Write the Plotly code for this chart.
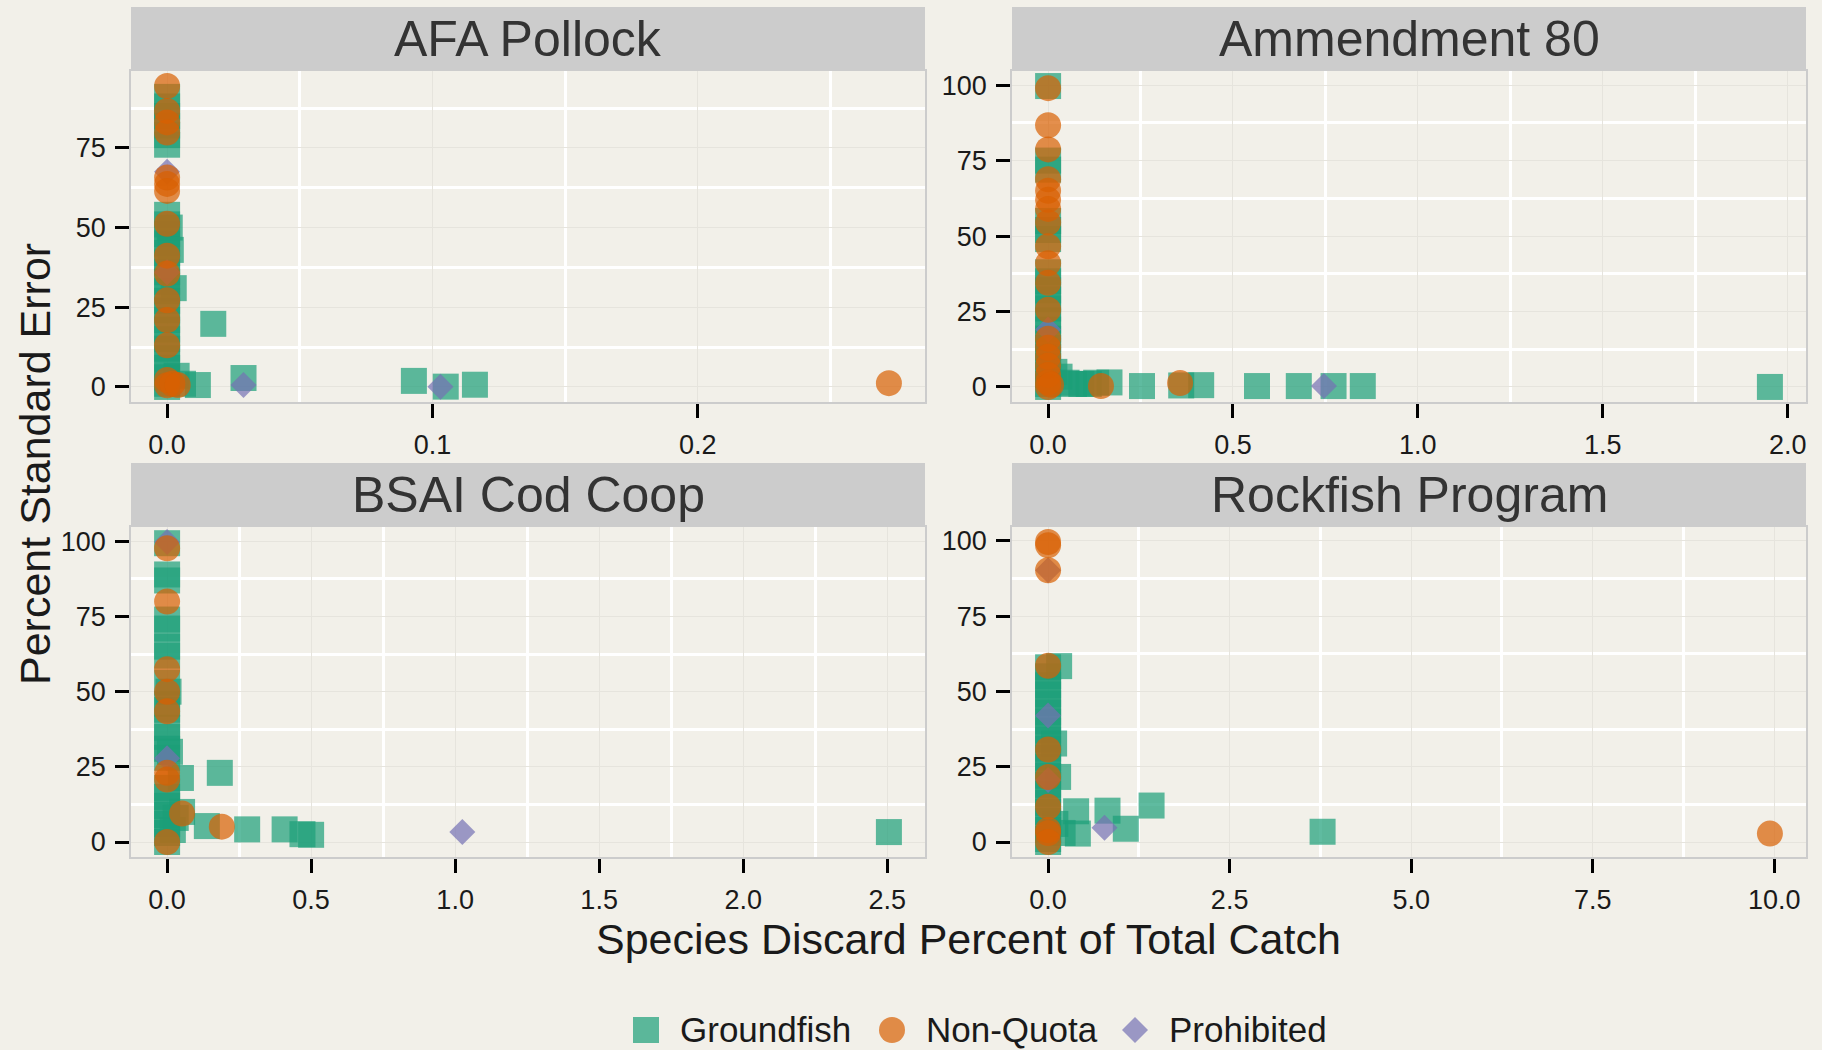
import plotly.graph_objects as go

# ---------------- data ----------------
panels = ["AFA Pollock", "Ammendment 80", "BSAI Cod Coop", "Rockfish Program"]
groups = ["Groundfish", "Non-Quota", "Prohibited"]

# AFA Pollock
afa_ground_x = [0] * 26 + [0.001, 0.0014, 0.0025, 0.0036, 0.006, 0.0116, 0.0174, 0.0288, 0.093, 0.105, 0.116]
afa_ground_y = [91, 88, 85, 82, 79, 76, 54, 51, 48, 45, 42, 39, 36, 33, 30, 27, 24, 21, 18, 15, 12, 9, 6, 3, 1, 0,
                50, 43, 31, 3.5, 1, 0.6, 19.8, 2.8, 1.9, 0.1, 0.7]
afa_nonq_x = [0] * 15 + [0.002, 0.004, 0.272]
afa_nonq_y = [94.4, 86.6, 83, 79.8, 65.7, 63.7, 61.5, 51.2, 41.2, 35.6, 27.2, 21, 13.1, 2.2, 0.5, 1, 0.6, 1.2]
afa_prohib_x = [0, 0, 0.0288, 0.103]
afa_prohib_y = [67.5, 36, 0.6, 0.1]

# Ammendment 80
a80_ground_x = [0] * 20 + [0.017, 0.031, 0.05, 0.07, 0.09, 0.11, 0.13, 0.166, 0.254, 0.36, 0.414, 0.565,
                           0.678, 0.772, 0.851, 1.952]
a80_ground_y = [99.7, 75, 72, 55, 52, 49, 38, 35, 32, 29, 26, 22, 19, 16, 13, 10, 7, 4, 1, 0,
                5, 3.4, 1.4, 1, 1, 1, 1.4, 1.5, 0.3, 0.5, 0.6, 0.3, 0.3, 0.3, 0.3, 0]
a80_nonq_x = [0] * 19 + [0.008, 0.143, 0.357]
a80_nonq_y = [99, 86.7, 78.7, 68.8, 65, 62, 59, 54.5, 46.6, 41, 34.5, 25.6, 16, 13, 10, 7, 4, 1.5, 0,
              0.7, 0.3, 1.3]
a80_prohib_x = [0, 0.746]
a80_prohib_y = [19, 0.3]

# BSAI Cod Coop
bsai_ground_x = [0] * 21 + [0.005, 0.01, 0.048, 0.183, 0.052, 0.03, 0.02, 0.138, 0.278, 0.408, 0.47, 0.5, 2.506]
bsai_ground_y = [99.4, 89, 87, 74, 71, 65, 62, 53, 46, 44, 38, 35, 31, 28, 18, 15, 12, 9, 6, 3, 0,
                 50, 30, 21.3, 23, 10, 8, 4, 5.3, 4.2, 4.2, 2.6, 2.4, 3.3]
bsai_nonq_x = [0] * 8 + [0.052, 0.19]
bsai_nonq_y = [97.7, 80, 57.5, 50, 43.5, 23, 20.8, 0, 9.5, 5.1]
bsai_prohib_x = [0, 0, 1.025]
bsai_prohib_y = [99.8, 27.9, 3.3]

# Rockfish Program
rock_ground_x = [0] * 21 + [0.152, 0.083, 0.138, 0.386, 0.41, 0.2, 0.1, 0.818, 1.07, 1.425, 3.78]
rock_ground_y = [58, 55, 52, 49, 46, 43, 40, 37, 34, 31, 28, 25, 22, 19, 16, 13, 10, 7, 4, 1, 0,
                 58.4, 32.7, 21.6, 10.2, 2.8, 3, 6, 10.4, 4.4, 12.1, 3.4]
rock_nonq_x = [0] * 10 + [9.94]
rock_nonq_y = [99.6, 98.5, 90.2, 58.5, 30.7, 21.6, 11.7, 4, 3, 0, 2.8]
rock_prohib_x = [0, 0, 0, 0.777]
rock_prohib_y = [90.2, 20.6, 42, 4.7]

x_tick_steps = [0.1, 0.5, 0.5, 2.5]
y_tick_step = 25

panel_data = [
    [(afa_ground_x, afa_ground_y), (afa_nonq_x, afa_nonq_y), (afa_prohib_x, afa_prohib_y)],
    [(a80_ground_x, a80_ground_y), (a80_nonq_x, a80_nonq_y), (a80_prohib_x, a80_prohib_y)],
    [(bsai_ground_x, bsai_ground_y), (bsai_nonq_x, bsai_nonq_y), (bsai_prohib_x, bsai_prohib_y)],
    [(rock_ground_x, rock_ground_y), (rock_nonq_x, rock_nonq_y), (rock_prohib_x, rock_prohib_y)],
]

# ---------------- style ----------------
W, H = 1822, 1050
BG = "#F2F0E9"
STRIP = "#CCCCCC"
FONT = "Liberation Sans, Arial, Helvetica, sans-serif"
colors = ["#1B9E77", "#D95F02", "#7570B3"]
symbols = ["square", "circle", "diamond"]
sizes = [26, 26, 20]
ALPHA = 0.7
draw_order = [0, 2, 1]  # groundfish, prohibited, then non-quota on top

# panel pixel boxes of plotting area
col_px = [(131, 925), (1012, 1806)]
row_px = [(71, 402), (527, 857)]
strip_h = 64

# legend key layout (pixels)
legend_key_x = [646, 892, 1135]
legend_y = 1030
legend_key_half = 13


def px_x(p):
    return p / W


def px_y(p):
    return 1 - p / H


def rng(vals):
    lo, hi = min(vals), max(vals)
    pad = 0.05 * (hi - lo)
    return [lo - pad, hi + pad]


def rgba(hexcol, a):
    h = hexcol.lstrip("#")
    return f"rgba({int(h[0:2], 16)},{int(h[2:4], 16)},{int(h[4:6], 16)},{a})"


fig = go.Figure()
layout = {}
shapes = []
annotations = []

for i, name in enumerate(panels):
    r, c = divmod(i, 2)
    xl, xr = col_px[c]
    yt, yb = row_px[r]
    xa = "xaxis" if i == 0 else f"xaxis{i + 1}"
    ya = "yaxis" if i == 0 else f"yaxis{i + 1}"
    xref = "x" if i == 0 else f"x{i + 1}"
    yref = "y" if i == 0 else f"y{i + 1}"

    all_x = [v for g in panel_data[i] for v in g[0]]
    all_y = [v for g in panel_data[i] for v in g[1]]

    common = dict(
        showline=True, linecolor="#CCCCCC", linewidth=1.5, mirror=True,
        ticks="outside", ticklen=14, tickwidth=3, tickcolor="#000000",
        showgrid=True, gridcolor="#E6E4DD", gridwidth=1,
        zeroline=False,
        tickfont=dict(family=FONT, size=27, color="#1A1A1A"),
    )
    xstep = x_tick_steps[i]
    layout[xa] = dict(
        common, domain=[px_x(xl), px_x(xr)], anchor=yref, range=rng(all_x),
        tick0=0, dtick=xstep, tickformat=".1f", ticklabelstandoff=4,
        minor=dict(dtick=xstep / 2, tick0=0, showgrid=True, gridcolor="#FFFFFF", gridwidth=3, ticks=""),
    )
    layout[ya] = dict(
        common, domain=[px_y(yb), px_y(yt)], anchor=xref, range=rng(all_y),
        tick0=0, dtick=y_tick_step, tickformat="d", ticklabelstandoff=4,
        minor=dict(dtick=y_tick_step / 2, tick0=0, showgrid=True, gridcolor="#FFFFFF", gridwidth=3, ticks=""),
    )

    for g in draw_order:
        gx, gy = panel_data[i][g]
        fig.add_trace(go.Scatter(
            x=gx, y=gy, mode="markers", name=groups[g], legendgroup=groups[g],
            showlegend=False, xaxis=xref, yaxis=yref,
            marker=dict(symbol=symbols[g], size=sizes[g], color=colors[g], opacity=ALPHA,
                        line=dict(width=0)),
            hoverinfo="skip",
        ))

    # strip
    shapes.append(dict(type="rect", xref="paper", yref="paper",
                       x0=px_x(xl), x1=px_x(xr), y0=px_y(yt), y1=px_y(yt - strip_h),
                       fillcolor=STRIP, line=dict(width=0), layer="below"))
    annotations.append(dict(text=name, xref="paper", yref="paper",
                            x=px_x((xl + xr) / 2), y=px_y(yt - strip_h / 2),
                            xanchor="center", yanchor="middle", showarrow=False,
                            font=dict(family=FONT, size=50, color="#333333")))

# legend (keys drawn as layout shapes with larger size like ggplot)
for g, label in enumerate(groups):
    cx = legend_key_x[g]
    k = legend_key_half
    fill = rgba(colors[g], ALPHA)
    if symbols[g] == "square":
        shapes.append(dict(type="rect", xref="paper", yref="paper",
                           x0=px_x(cx - k), x1=px_x(cx + k), y0=px_y(legend_y + k), y1=px_y(legend_y - k),
                           fillcolor=fill, line=dict(width=0)))
    elif symbols[g] == "circle":
        shapes.append(dict(type="circle", xref="paper", yref="paper",
                           x0=px_x(cx - k), x1=px_x(cx + k), y0=px_y(legend_y + k), y1=px_y(legend_y - k),
                           fillcolor=fill, line=dict(width=0)))
    else:
        path = (f"M {px_x(cx)} {px_y(legend_y - k)} L {px_x(cx + k)} {px_y(legend_y)} "
                f"L {px_x(cx)} {px_y(legend_y + k)} L {px_x(cx - k)} {px_y(legend_y)} Z")
        shapes.append(dict(type="path", xref="paper", yref="paper", path=path,
                           fillcolor=fill, line=dict(width=0)))
    annotations.append(dict(text=label, xref="paper", yref="paper",
                            x=px_x(cx + k + 19), y=px_y(legend_y - 1), xanchor="left", yanchor="middle",
                            showarrow=False, font=dict(family=FONT, size=35, color="#1A1A1A")))

# axis titles
annotations.append(dict(text="Percent Standard Error", xref="paper", yref="paper",
                        x=px_x(35), y=px_y(464), xanchor="center", yanchor="middle",
                        textangle=-90, showarrow=False,
                        font=dict(family=FONT, size=43, color="#1A1A1A")))
annotations.append(dict(text="Species Discard Percent of Total Catch", xref="paper", yref="paper",
                        x=px_x(968), y=px_y(939), xanchor="center", yanchor="middle",
                        showarrow=False, font=dict(family=FONT, size=43, color="#1A1A1A")))

fig.update_layout(
    **layout,
    width=W, height=H,
    margin=dict(l=0, r=0, t=0, b=0),
    paper_bgcolor=BG, plot_bgcolor=BG,
    shapes=shapes, annotations=annotations,
    showlegend=False,
    font=dict(family=FONT),
)

fig.write_html("out.html", config={"displayModeBar": False},
               post_script="document.body.style.margin='0';document.body.style.overflow='hidden';")
